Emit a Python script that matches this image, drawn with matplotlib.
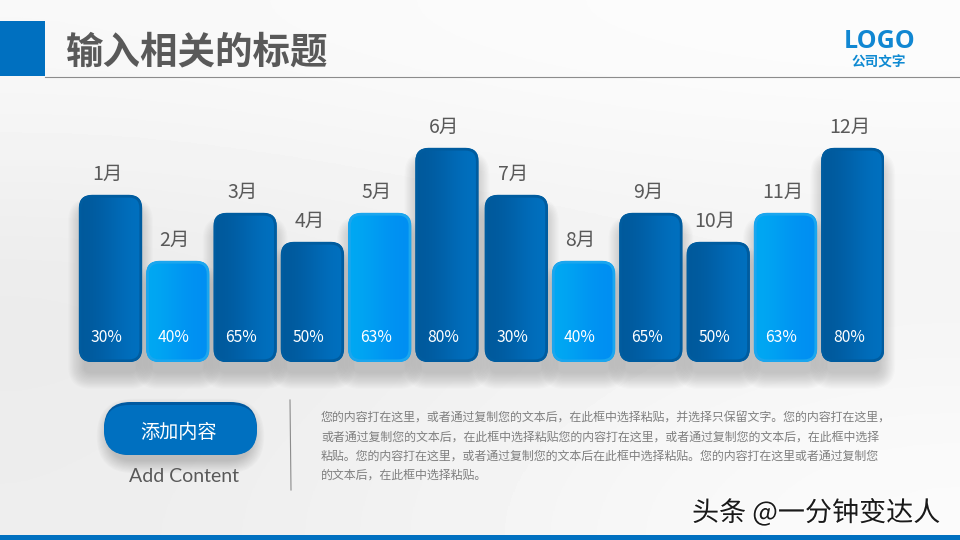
import matplotlib
matplotlib.use("Agg")
import matplotlib.pyplot as plt
import matplotlib.patheffects as pe
from matplotlib.patches import FancyBboxPatch, Rectangle
import numpy as np

plt.rcParams['font.family'] = ['Noto Sans CJK SC', 'DejaVu Sans']

months = ["1月", "2月", "3月", "4月", "5月", "6月", "7月", "8月", "9月", "10月", "11月", "12月"]
percents = ["30%", "40%", "65%", "50%", "63%", "80%", "30%", "40%", "65%", "50%", "63%", "80%"]
# the labels do not follow the bar heights in the original, heights are read off the picture
heights = [167, 101, 149, 120, 149, 214, 167, 101, 149, 120, 149, 214]
light = [False, True, False, False, True, False, False, True, False, False, True, False]

title = "输入相关的标题"
body_lines = [
    "您的内容打在这里，或者通过复制您的文本后，在此框中选择粘贴，并选择只保留文字。您的内容打在这里，",
    "或者通过复制您的文本后，在此框中选择粘贴您的内容打在这里，或者通过复制您的文本后，在此框中选择",
    "粘贴。您的内容打在这里，或者通过复制您的文本后在此框中选择粘贴。您的内容打在这里或者通过复制您",
    "的文本后，在此框中选择粘贴。",
]

BLUE = "#0070c0"
GREY = "#595959"

fig = plt.figure(figsize=(9.6, 5.4), dpi=100)

# full slide axes in pixels
bg = fig.add_axes([0, 0, 1, 1])
shade = np.array([[.975, .985, .99], [.915, .935, .945], [.93, .955, .985]])
bg.imshow(shade, cmap="gray", vmin=0, vmax=1, extent=(0, 960, 540, 0), aspect="auto",
          interpolation="bicubic")
bg.set_xlim(0, 960)
bg.set_ylim(540, 0)
bg.axis("off")

# header and footer
bg.add_patch(Rectangle((0, 21), 45, 55, color=BLUE, lw=0))
bg.plot([45, 960], [76.5, 76.5], color="#8c8c8c", lw=0.8)
bg.add_patch(Rectangle((0, 535), 960, 5, color=BLUE, lw=0))
bg.text(66, 52, title, fontsize=27, fontweight="bold", color=GREY, va="center", ha="left")
bg.text(880, 41, "LOGO", fontsize=18, fontweight="bold", color="#1187d2",
        family="Open Sans", va="center", ha="center")
bg.text(879, 63, "公司文字", fontsize=9.8, fontweight="bold", color="#0f8ad2", va="center", ha="center")

# bars, one index unit is 67.3 px and one height unit is 1 px, second half sits a bit further right
x_unit = 67.3
ax = fig.add_axes([76.85 / 960, (540 - 362) / 540, 12 * x_unit / 960, 262 / 540])
ax.patch.set_alpha(0)
positions = [i + (2 / x_unit if i >= 6 else 0) for i in range(len(heights))]
bars = ax.bar(positions, heights, width=63 / x_unit, color="none")
for rect, dark_light, month, pct in zip(bars, light, months, percents):
    x, w, h = rect.get_x(), rect.get_width(), rect.get_height()
    rect.set_visible(False)
    aspect = x_unit
    r = 13 / x_unit

    # soft shadow under the bar
    for k in range(14):
        grow = (14 - k) * 1.2
        ax.add_patch(FancyBboxPatch((x - grow / x_unit + 6 / x_unit, -10 - grow),
                                    w + 2 * grow / x_unit - 12 / x_unit, h + 2 * grow - 10,
                                    boxstyle=f"round,pad=0,rounding_size={(6 + grow) / x_unit}",
                                    mutation_aspect=aspect, fc="#404040", ec="none",
                                    alpha=0.018, clip_on=False, zorder=1))

    if dark_light:
        edge = "#1ba6ee"
        ramp = [[0.0, 0.66, 0.95], [0.0, 0.60, 0.95], [0.0, 0.56, 0.95]]
    else:
        edge = "#005c9f"
        ramp = [[0.0, 0.35, 0.61], [0.0, 0.39, 0.68], [0.0, 0.44, 0.75]]
    box = FancyBboxPatch((x, 0), w, h, boxstyle=f"round,pad=0,rounding_size={r}",
                         mutation_aspect=aspect, fc="none", ec="none", zorder=2)
    ax.add_patch(box)
    im = ax.imshow(np.array([ramp]), extent=(x, x + w, 0, h), aspect="auto",
                   interpolation="bicubic", zorder=2)
    im.set_clip_path(box)
    ax.add_patch(FancyBboxPatch((x + 1.2 / x_unit, 1.2), w - 2.4 / x_unit, h - 2.4,
                                boxstyle=f"round,pad=0,rounding_size={12 / x_unit}",
                                mutation_aspect=aspect, fc="none", ec=edge, lw=2.0, zorder=3))
    cx = x + w / 2
    ax.text(cx - 3 / x_unit, h + 21, month, fontsize=14, color=GREY, ha="center", va="center",
            clip_on=False, zorder=4)
    ax.text(cx - 4 / x_unit, 24, pct, fontsize=11.3, color="white", ha="center", va="center", zorder=4)
ax.set_xlim(-0.5, 11.5)
ax.set_ylim(0, 262)
ax.axis("off")

# button and notes
for k in range(12):
    grow = (12 - k) * 1.1
    bg.add_patch(FancyBboxPatch((110 - grow, 412 - grow), 141 + 2 * grow, 48 + 2 * grow,
                                boxstyle=f"round,pad=0,rounding_size={24 + grow}",
                                fc="#404040", ec="none", alpha=0.022))
bg.add_patch(FancyBboxPatch((104, 402), 153, 53, boxstyle="round,pad=0,rounding_size=26.5",
                            fc="#0059a0", ec="none"))
bg.add_patch(FancyBboxPatch((104, 405), 153, 50, boxstyle="round,pad=0,rounding_size=25",
                            fc=BLUE, ec="none"))
bg.text(179, 432, "添加内容", fontsize=13.8, color="white", ha="center", va="center")
bg.text(184, 476, "Add Content", fontsize=14, color=GREY, ha="center", va="center", family="Lato")
bg.plot([290, 291], [400, 490], color="#8c8c8c", lw=0.8)

for line, y in zip(body_lines, [418, 437, 456, 475]):
    bg.text(321, y, line, fontsize=8.6, color="#7f7f7f", ha="left", va="center")

bg.text(692, 513, "头条 @一分钟变达人", fontsize=19.5, color="#1a1a1a", ha="left", va="center",
        path_effects=[pe.withStroke(linewidth=1.5, foreground="white")])

fig.savefig("out.png", dpi=100)
